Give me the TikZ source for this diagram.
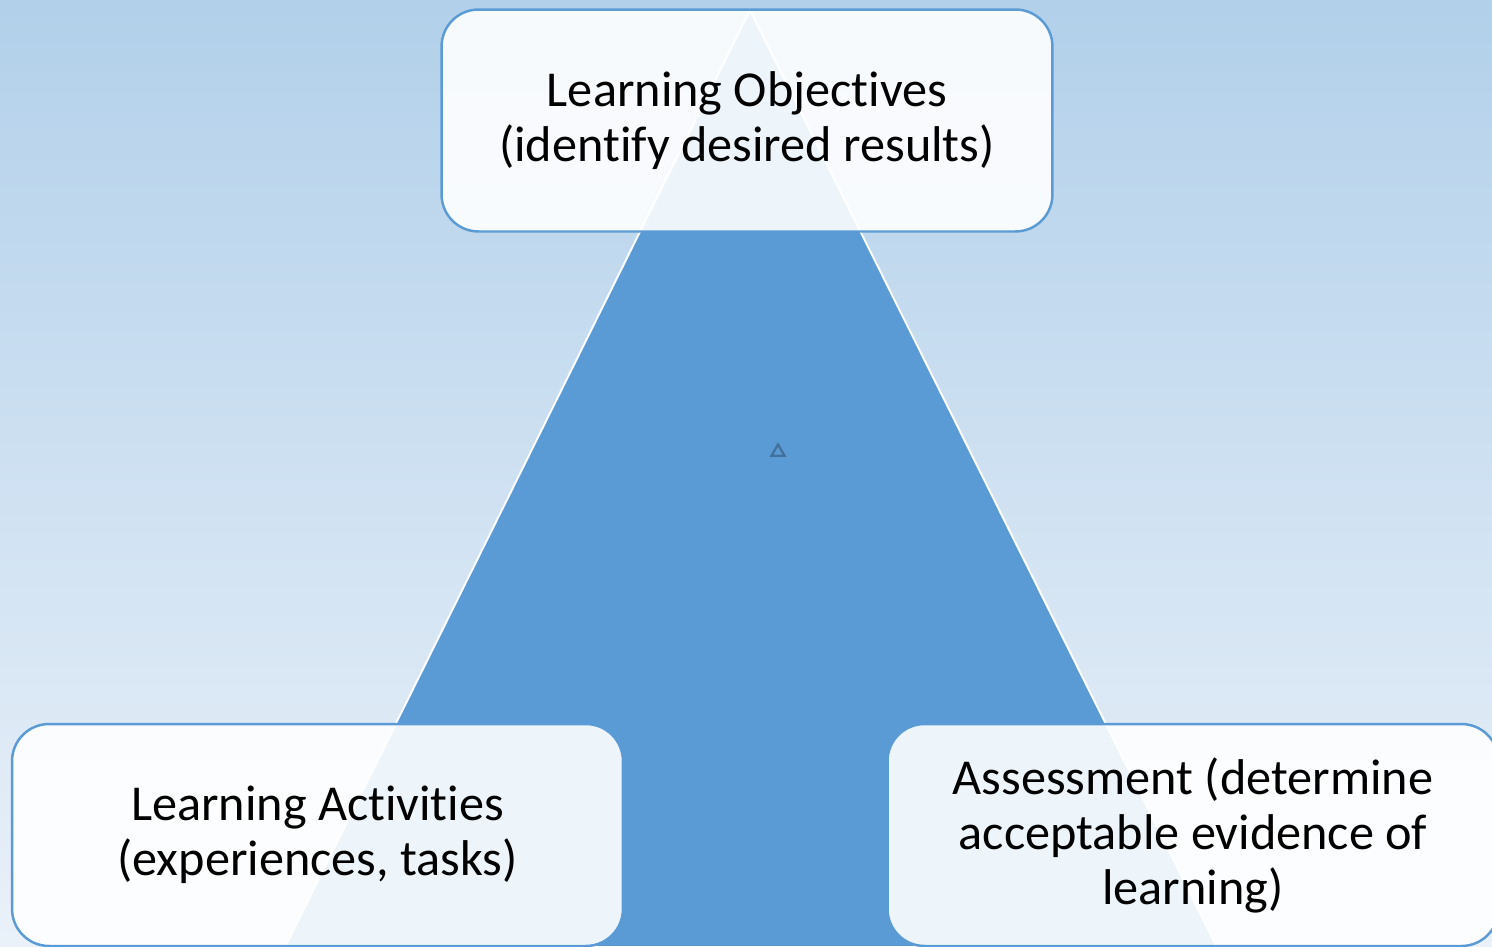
\documentclass[tikz,border=0pt]{standalone}
\usepackage{fontspec}
\setmainfont[Ligatures=NoCommon]{Carlito}
\usetikzlibrary{shapes.geometric, positioning}
\definecolor{cazul}{HTML}{5B9BD5}
\definecolor{cborde}{HTML}{5B9BD5}
\definecolor{cfondoa}{HTML}{B2D0EA}
\definecolor{cfondob}{HTML}{EAF1F9}
\definecolor{cmarca}{HTML}{41719C}
\tikzset{
  caja/.style={rectangle, rounded corners=0.74cm, draw=cborde, fill=white, fill opacity=0.9,
               text opacity=1, line width=1.4pt, minimum width=12.22cm, minimum height=4.44cm,
               align=center, font=\fontsize{28.6}{31.3}\selectfont},
  marca/.style={regular polygon, regular polygon sides=3, draw=cmarca, line width=1.3pt,
                minimum size=0.3cm, inner sep=0pt},
}
\begin{document}
\begin{tikzpicture}[x=0.02cm, y=-0.02cm]
        \useasboundingbox (0,0) rectangle (1492,947);
        \shade[top color=cfondoa, bottom color=cfondob] (0,0) rectangle (1492,947);
        % triangulo central
        \coordinate (cima) at (750,10);
        \coordinate (bizq) at (285,947);
        \coordinate (bder) at (1217,947);
        \fill[cazul, draw=white, line width=1.1pt] (cima) -- (bizq) -- (bder) -- cycle;
        \node[marca] (m) at (778,452) {};
        % cajas
        \node[caja] (a) at (747,120.5) {Learning Objectives \\ (identify desired results)};
        \node[caja] (b) at (317.5,835) {Learning Activities \\ (experiences, tasks)};
        \node[caja] (c) at (1193,835) {Assessment (determine \\ acceptable evidence of \\ learning)};
    \end{tikzpicture}
\end{document}
